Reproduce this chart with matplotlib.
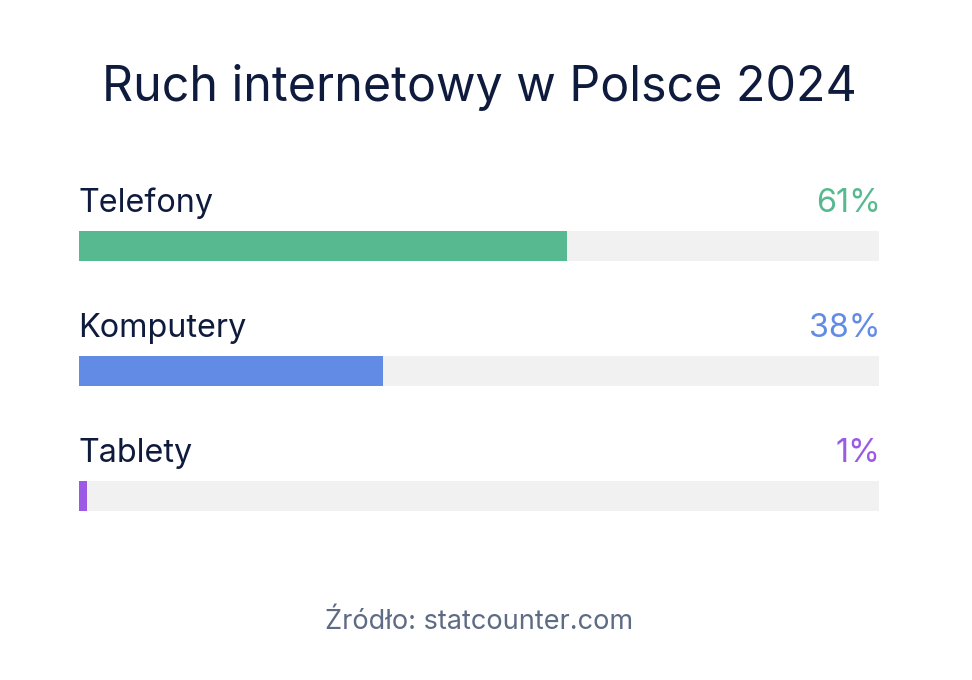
import matplotlib
matplotlib.use("Agg")
import matplotlib.pyplot as plt

plt.rcParams['font.family'] = ['Inter', 'DejaVu Sans']

title = "Ruch internetowy w Polsce 2024"
categories = ["Telefony", "Komputery", "Tablety"]
values = [61, 38, 1]
value_labels = ["61%", "38%", "1%"]
colors = ["#57B98F", "#628BE6", "#9B59E6"]
source = "Źródło: statcounter.com"

W, H = 972, 680
fig = plt.figure(figsize=(W / 100, H / 100), dpi=100)
fig.patch.set_facecolor("white")

# axes: horizontal span = bar track, vertical in pixel units
ax = fig.add_axes([79 / W, 0, 800 / W, 1])
ax.set_xlim(0, 100)
ax.set_ylim(H, 0)
ax.axis("off")

dark = "#0F1B3D"
first_center, step, bar_h = 246, 125, 30
for i, (cat, v, lab, c) in enumerate(zip(categories, values, value_labels, colors)):
    yc = first_center + step * i
    ax.barh(yc, 100, height=bar_h, color="#F1F1F1", left=0)
    ax.barh(yc, v, height=bar_h, color=c, left=0)
    ax.text(-0.1, yc - 34, cat, ha="left", va="baseline", fontsize=23.3, color=dark)
    ax.text(100.2, yc - 34, lab, ha="right", va="baseline", fontsize=23.3, color=c)

fig.text(479 / W, 1 - 101 / H, title, ha="center", va="baseline", fontsize=34.8, color=dark)
fig.text(479 / W, 1 - 629 / H, source, ha="center", va="baseline", fontsize=19.5, color="#5E6B85")

fig.savefig("out.png", dpi=100, facecolor="white")
